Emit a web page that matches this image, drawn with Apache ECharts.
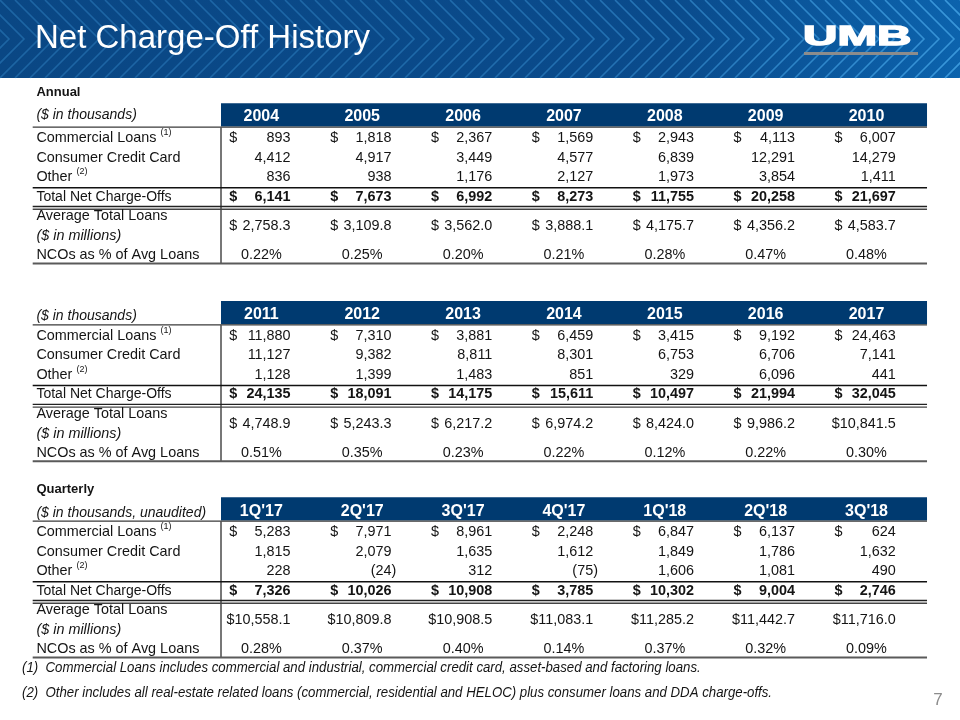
<!DOCTYPE html>
<html><head><meta charset="utf-8">
<script src="https://cdn.jsdelivr.net/npm/echarts@6/dist/echarts.min.js"></script>
<style>html,body{margin:0;padding:0;background:#fff}#c{width:960px;height:720px}</style>
</head><body><div id="c"></div>
<script>
// ---------------- DATA ----------------
const pageTitle = 'Net Charge-Off History';
const rowLabels = ['Commercial Loans', 'Consumer Credit Card', 'Other', 'Total Net Charge-Offs', 'Average Total Loans', '($ in millions)', 'NCOs as % of Avg Loans'];

const annualYearsA = ['2004', '2005', '2006', '2007', '2008', '2009', '2010'];
const commercialA = [893, 1818, 2367, 1569, 2943, 4113, 6007];
const consumerA = [4412, 4917, 3449, 4577, 6839, 12291, 14279];
const otherA = [836, 938, 1176, 2127, 1973, 3854, 1411];
const totalA = [6141, 7673, 6992, 8273, 11755, 20258, 21697];
const avgLoansA = [2758.3, 3109.8, 3562.0, 3888.1, 4175.7, 4356.2, 4583.7];
const ncoPctA = [0.22, 0.25, 0.20, 0.21, 0.28, 0.47, 0.48];

const annualYearsB = ['2011', '2012', '2013', '2014', '2015', '2016', '2017'];
const commercialB = [11880, 7310, 3881, 6459, 3415, 9192, 24463];
const consumerB = [11127, 9382, 8811, 8301, 6753, 6706, 7141];
const otherB = [1128, 1399, 1483, 851, 329, 6096, 441];
const totalB = [24135, 18091, 14175, 15611, 10497, 21994, 32045];
const avgLoansB = [4748.9, 5243.3, 6217.2, 6974.2, 8424.0, 9986.2, 10841.5];
const ncoPctB = [0.51, 0.35, 0.23, 0.22, 0.12, 0.22, 0.30];

const quartersQ = ["1Q'17", "2Q'17", "3Q'17", "4Q'17", "1Q'18", "2Q'18", "3Q'18"];
const commercialQ = [5283, 7971, 8961, 2248, 6847, 6137, 624];
const consumerQ = [1815, 2079, 1635, 1612, 1849, 1786, 1632];
const otherQ = [228, -24, 312, -75, 1606, 1081, 490];
const totalQ = [7326, 10026, 10908, 3785, 10302, 9004, 2746];
const avgLoansQ = [10558.1, 10809.8, 10908.5, 11083.1, 11285.2, 11442.7, 11716.0];
const ncoPctQ = [0.28, 0.37, 0.40, 0.14, 0.37, 0.32, 0.09];

const footnotes = [
  '(1)  Commercial Loans includes commercial and industrial, commercial credit card, asset-based and factoring loans.',
  '(2)  Other includes all real-estate related loans (commercial, residential and HELOC) plus consumer loans and DDA charge-offs.'
];
const pageNumber = '7';

// ---------------- STYLE / LAYOUT ----------------
const FONT = "'Liberation Sans', Arial, Helvetica, sans-serif";
const TEXT = '#141414';
const HEAD_BLUE = '#003a70';
const BODY_SIZE = 14.4;
const TEXT_DY = 1.5;
const ROW_H = 19.5;
const COL_W = 100.86;
const COL0 = 221;

const tables = [
  { top: 136.7, section: 'Annual', sectionY: -2.34, unit: '($ in thousands)', unitY: -1.2, headY: -1.12,
    cols: annualYearsA, commercial: commercialA, consumer: consumerA, other: otherA, total: totalA, avg: avgLoansA, pct: ncoPctA },
  { top: 334.5, section: null, sectionY: 0, unit: '($ in thousands)', unitY: -1.02, headY: -1.08,
    cols: annualYearsB, commercial: commercialB, consumer: consumerB, other: otherB, total: totalB, avg: avgLoansB, pct: ncoPctB },
  { top: 530.7, section: 'Quarterly', sectionY: -2.2, unit: '($ in thousands, unaudited)', unitY: -0.98, headY: -1.06,
    cols: quartersQ, commercial: commercialQ, consumer: consumerQ, other: otherQ, total: totalQ, avg: avgLoansQ, pct: ncoPctQ }
];

function fmtInt(v) { return Math.abs(v).toLocaleString('en-US'); }
function fmt1(v) { return v.toLocaleString('en-US', { minimumFractionDigits: 1, maximumFractionDigits: 1 }); }

const LBL_X = -1.83, LINE_X0 = -1.867, DOLLAR_DX = 0.082, RIGHT_DX = 0.69, CENTER_DX = 0.4;

function buildItems(t) {
  const items = [];
  const txt = (x, y, text, o) => items.push(Object.assign({ kind: 'text', x, y, text }, o || {}));
  const line = (x1, y1, x2, y2, stroke, width) => items.push({ kind: 'line', x1, y1, x2, y2, stroke, width });
  items.push({ kind: 'rect', x1: 0, y1: -1.72, x2: 7, y2: -0.52, fill: HEAD_BLUE });
  line(LINE_X0, -0.49, 7, -0.49, '#3a3a3a', 1.3);
  line(0, -0.5, 0, 6.5, '#555555', 1.6);
  line(LINE_X0, 2.62, 7, 2.62, '#111111', 1.5);
  line(LINE_X0, 3.58, 7, 3.58, '#222222', 1.3);
  line(LINE_X0, 3.72, 7, 3.72, '#444444', 1.3);
  line(LINE_X0, 6.5, 7, 6.5, '#5a5a5a', 2);
  if (t.section) txt(LBL_X, t.sectionY, t.section, { weight: 'bold', size: 13 });
  txt(LBL_X, t.unitY, t.unit, { style: 'italic', size: 14 });
  txt(LBL_X, 0, '{m|' + rowLabels[0] + ' }{s|(1)}', { rich: true });
  txt(LBL_X, 1, rowLabels[1]);
  txt(LBL_X, 2, '{m|' + rowLabels[2] + ' }{s|(2)}', { rich: true });
  txt(LBL_X, 3, rowLabels[3], { size: 14 });
  txt(LBL_X, 4, rowLabels[4]);
  txt(LBL_X, 5, rowLabels[5], { style: 'italic' });
  txt(LBL_X, 6, rowLabels[6]);
  t.cols.forEach((c, k) => {
    txt(k + CENTER_DX, t.headY, c, { weight: 'bold', size: 16, fill: '#ffffff', align: 'center' });
    txt(k + DOLLAR_DX, 0, '$');
    txt(k + RIGHT_DX, 0, fmtInt(t.commercial[k]), { align: 'right' });
    txt(k + RIGHT_DX, 1, fmtInt(t.consumer[k]), { align: 'right' });
    if (t.other[k] < 0) {
      txt(k + RIGHT_DX, 2, '(' + fmtInt(t.other[k]), { align: 'right' });
      txt(k + RIGHT_DX, 2, ')', { align: 'left' });
    } else {
      txt(k + RIGHT_DX, 2, fmtInt(t.other[k]), { align: 'right' });
    }
    txt(k + DOLLAR_DX, 3, '$', { weight: 'bold' });
    txt(k + RIGHT_DX, 3, fmtInt(t.total[k]), { align: 'right', weight: 'bold' });
    if (t.avg[k] >= 10000) {
      txt(k + RIGHT_DX, 4.5, '$' + fmt1(t.avg[k]), { align: 'right' });
    } else {
      txt(k + DOLLAR_DX, 4.5, '$');
      txt(k + RIGHT_DX, 4.5, fmt1(t.avg[k]), { align: 'right' });
    }
    txt(k + CENTER_DX, 6, t.pct[k].toFixed(2) + '%', { align: 'center' });
  });
  return items;
}

function makeRender(items) {
  return function (params, api) {
    const it = items[params.dataIndex];
    if (it.kind === 'rect') {
      const p1 = api.coord([it.x1, it.y1]), p2 = api.coord([it.x2, it.y2]);
      return { type: 'rect', shape: { x: p1[0], y: p1[1], width: p2[0] - p1[0], height: p2[1] - p1[1] }, style: { fill: it.fill } };
    }
    if (it.kind === 'line') {
      const p1 = api.coord([it.x1, it.y1]), p2 = api.coord([it.x2, it.y2]);
      return { type: 'line', shape: { x1: p1[0], y1: p1[1], x2: p2[0], y2: p2[1] }, style: { stroke: it.stroke, lineWidth: it.width } };
    }
    const p = api.coord([it.x, it.y]);
    const style = {
      text: it.text, fill: it.fill || TEXT, fontFamily: FONT, fontSize: it.size || BODY_SIZE,
      fontWeight: it.weight || 'normal', fontStyle: it.style || 'normal',
      align: it.align || 'left', verticalAlign: 'middle'
    };
    if (it.rich) {
      style.rich = {
        m: { fontSize: BODY_SIZE, fontFamily: FONT, fill: TEXT, lineHeight: 20 },
        s: { fontSize: 9, fontFamily: FONT, fill: TEXT, lineHeight: 11, verticalAlign: 'top' }
      };
    }
    return { type: 'text', x: p[0], y: p[1] + TEXT_DY, style };
  };
}

const grids = [], xAxes = [], yAxes = [], series = [];
tables.forEach((t, i) => {
  grids.push({ left: COL0 - 2 * COL_W, width: 9 * COL_W, top: t.top - 3 * ROW_H, height: 10 * ROW_H, containLabel: false });
  xAxes.push({ type: 'value', gridIndex: i, min: -2, max: 7, show: false });
  yAxes.push({ type: 'value', gridIndex: i, min: -3, max: 7, inverse: true, show: false });
  const items = buildItems(t);
  series.push({
    type: 'custom', xAxisIndex: i, yAxisIndex: i, silent: true, clip: false,
    renderItem: makeRender(items),
    data: items.map(it => [it.kind === 'text' ? it.x : it.x1, it.kind === 'text' ? it.y : it.y1])
  });
});

// ---------------- DECORATION (page header) ----------------
const graphics = [];
graphics.push({
  type: 'rect', left: 0, top: 0, shape: { width: 960, height: 78 }, z: 0,
  style: { fill: new echarts.graphic.LinearGradient(0, 0, 1, 0, [
    { offset: 0, color: '#0a4784' }, { offset: 0.7, color: '#0a4b8c' }, { offset: 1, color: '#0c63ad' }]) }
});
for (let x = -60; x < 980; x += 15) {
  const f = Math.max(0, Math.min(1, x / 960));
  const a = (0.32 + 0.5 * f * f * f).toFixed(2);
  graphics.push({
    type: 'polyline', z: 1, silent: true,
    shape: { points: [[x, 0], [x + 39, 39], [x, 78]] },
    style: { stroke: 'rgba(70,165,230,' + a + ')', lineWidth: 1.6, fill: null }
  });
}
graphics.push({
  type: 'text', z: 5, x: 35, y: 39,
  style: { text: pageTitle, fill: '#ffffff', fontFamily: FONT, fontSize: 33, verticalAlign: 'middle' }
});
graphics.push({
  type: 'text', z: 5, x: 803, y: 37, scaleX: 1.7, originX: 0, originY: 0,
  style: { text: 'UMB', fill: '#ffffff', stroke: '#ffffff', lineWidth: 1.4, fontFamily: FONT, fontWeight: 'bold', fontSize: 28, verticalAlign: 'middle' }
});
graphics.push({ type: 'rect', z: 5, shape: { x: 804, y: 52, width: 114, height: 3 }, style: { fill: '#8c8c8c' } });
footnotes.forEach((f, i) => {
  graphics.push({
    type: 'text', z: 5, x: 22, y: 668 + 25 * i, scaleX: 0.945, originX: 0, originY: 0,
    style: { text: f, fill: TEXT, fontFamily: FONT, fontStyle: 'italic', fontSize: 14, verticalAlign: 'middle' }
  });
});
graphics.push({
  type: 'text', z: 5, x: 938, y: 700,
  style: { text: pageNumber, fill: '#8c8c8c', fontFamily: FONT, fontSize: 17, align: 'center', verticalAlign: 'middle' }
});

const chart = echarts.init(document.getElementById('c'), null, { renderer: 'canvas' });
chart.setOption({
  animation: false,
  backgroundColor: '#ffffff',
  grid: grids, xAxis: xAxes, yAxis: yAxes, series,
  graphic: graphics
});
</script></body></html>
